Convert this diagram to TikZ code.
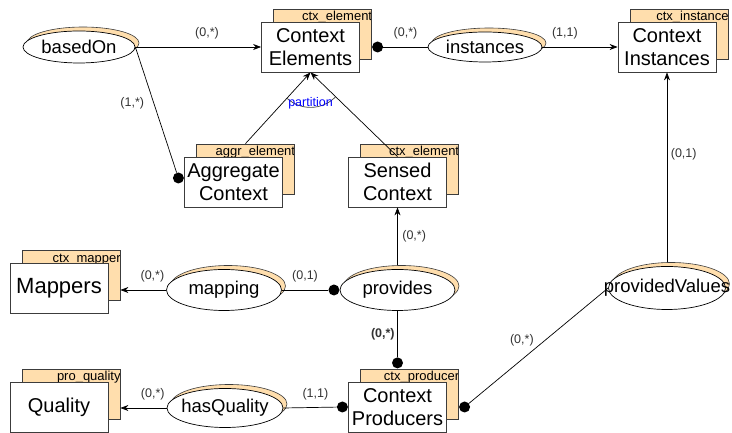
\documentclass[tikz,border=0pt]{standalone}
\usepackage{fontspec}
\setmainfont{Liberation Sans}
\usetikzlibrary{positioning,arrows.meta,shapes.geometric,shadows,backgrounds}
\definecolor{tagc}{RGB}{255,222,173}
\definecolor{linec}{RGB}{60,60,60}
\tikzset{
  entity/.style   = {draw=linec, line width=0.8pt, fill=white, minimum width=98pt, minimum height=50pt,
                     inner sep=0pt, align=center, font=\fontsize{20}{23}\selectfont},
  tagtext/.style  = {font=\fontsize{13}{14}\selectfont, inner sep=0pt, draw=none, fill=none,
                     minimum width=0pt, minimum height=0pt},
  tagbox/.style   = {draw=linec, line width=0.8pt, fill=tagc, minimum width=98pt, minimum height=50pt,
                     inner sep=0pt,
                     path picture={\node[tagtext, anchor=base east] at ([xshift=1pt,yshift=-12pt]path picture bounding box.north east) {#1};}},
  rel/.style      = {ellipse, draw=black, line width=0.7pt, fill=white, inner sep=0pt,
                     font=\fontsize{18.5}{20}\selectfont,
                     general shadow={shadow xshift=4pt, shadow yshift=4pt, fill=tagc, draw=linec, line width=0.6pt}},
  dot/.style      = {circle, fill=black, inner sep=0pt, minimum size=11pt},
  link/.style     = {line width=0.7pt},
  isa/.style      = {link, -{Stealth[length=8pt, width=6pt]}},
  card/.style     = {font=\fontsize{12.5}{14}\selectfont, text=black!80, inner sep=1.5pt},
  parttext/.style = {font=\fontsize{12.5}{14}\selectfont, text=blue, inner sep=1pt},
}
\begin{document}
\begin{tikzpicture}[x=1pt, y=1pt]
\useasboundingbox (0,0) rectangle (732,433);

% entities
\node[entity] (ce) at (310.5,386) {Context\\Elements};
\node[entity] (ci) at (667,386) {Context\\Instances};
\node[entity] (agg) at (233.5,251) {Aggregate\\Context};
\node[entity] (sen) at (397.5,251) {Sensed\\Context};
\node[entity, font=\fontsize{22}{24}\selectfont] (map) at (59,144.5) {Mappers};
\node[entity] (qual) at (59,26) {Quality};
\node[entity] (prod) at (397.5,26) {Context\\Producers};

% table tags stacked behind
\begin{scope}[on background layer]
\node[tagbox=ctx\_element] (cetag) at ([shift={(12,13)}]ce) {};
\node[tagbox=ctx\_instance] (citag) at ([shift={(12,13)}]ci) {};
\node[tagbox=aggr\_element] (aggtag) at ([shift={(12,13)}]agg) {};
\node[tagbox=ctx\_element] (sentag) at ([shift={(12,13)}]sen) {};
\node[tagbox=ctx\_mapper] (maptag) at ([shift={(12,13)}]map) {};
\node[tagbox=pro\_quality] (qualtag) at ([shift={(12,13)}]qual) {};
\node[tagbox=ctx\_producer] (prodtag) at ([shift={(12,13)}]prod) {};
\end{scope}

% relationships
\node[rel, minimum width=112pt, minimum height=32pt] (based) at (79,386) {basedOn};
\node[rel, minimum width=114pt, minimum height=30pt] (inst) at (485,386) {instances};
\node[rel, minimum width=115pt, minimum height=41pt] (mapping) at (224,143) {mapping};
\node[rel, minimum width=115pt, minimum height=41pt] (prov) at (397.5,143) {provides};
\node[rel, minimum width=116pt, minimum height=39pt] (hasq) at (225,25) {\makebox[0pt]{hasQuality}};
\node[rel, minimum width=117pt, minimum height=43pt] (pv) at (667,145) {\makebox[0pt]{providedValues}};

% participation dots
\node[dot, anchor=west] (cedot) at (cetag.east |- ce.east) {};
\node[dot, anchor=east] (aggdot) at ([yshift=4pt]agg.west) {};
\node[dot, anchor=east] (provdot) at (prov.west) {};
\node[dot, anchor=south] (prodtop) at (prod.north |- prodtag.north) {};
\node[dot, anchor=east] (prodleft) at (prod.west) {};
\node[dot, anchor=west] (prodright) at (prodtag.east |- prod.east) {};

% links
\draw[isa] (based.east) -- node[card, above=6pt, pos=.57] (l1) {(0,*)} (ce.west);
\draw[link] (based.east) -- node[card, left=8pt, pos=.45] (l2) {(1,*)} (aggdot);
\draw[link] (cedot) -- node[card, above=6pt] (l3) {(0,*)} (inst.west);
\draw[isa] (inst.east) -- node[card, above=6pt, pos=.3] (l4) {(1,1)} (ci.west);

% partition of context elements
\draw[isa] (aggtag.north) -- (ce.south);
\draw[isa] (sen.north) -- (ce.south);
\draw[link, black!75] (ce.south) ++(-131.9:35pt) arc[start angle=-131.9, end angle=-44.5, radius=35pt];
\node[parttext, below=24pt of ce.south] (part) {partition};

\draw[isa] ([yshift=4pt]prov.north) -- node[card, right=3pt] (l5) {(0,*)} (sen.south);
\draw[isa] (mapping.west) -- node[card, above=6pt, pos=.3] (l6) {(0,*)} (mapping.west -| maptag.east);
\draw[link] (provdot) -- node[card, above=6pt] (l7) {(0,1)} (mapping.east);
\draw[link] (prov.south) -- node[card, left=1pt, font=\fontsize{12.5}{14}\selectfont\bfseries] (l8) {(0,*)} (prodtop);
\draw[link] (prodleft) -- node[card, above=6pt, pos=.4] (l9) {(1,1)} (hasq.east);
\draw[isa] (hasq.west) -- node[card, above=6pt, pos=.3] (l10) {(0,*)} (hasq.west -| qualtag.east);
\draw[link] (prodright) -- node[card, above=12pt, pos=.38] (l11) {(0,*)} (pv.west);
\draw[isa] ([yshift=4pt]pv.north) -- node[card, right=2pt, pos=.57] (l12) {(0,1)} (ci.south);

\end{tikzpicture}
\end{document}
